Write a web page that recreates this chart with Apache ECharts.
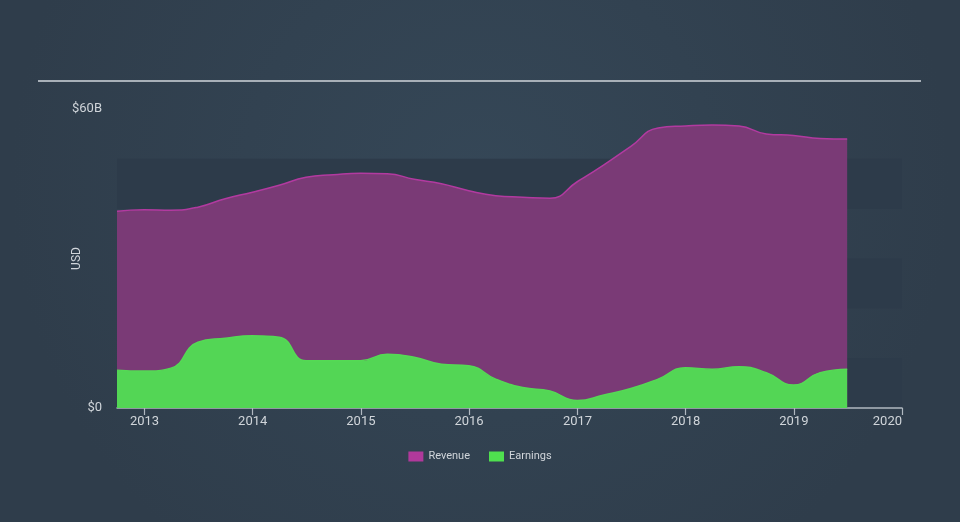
<!DOCTYPE html>
<html>
<head>
<meta charset="utf-8">
<script src="https://cdn.jsdelivr.net/npm/echarts@6/dist/echarts.min.js"></script>
<style>
html,body{margin:0;padding:0;background:#324353;}
#chart{width:960px;height:522px;}
</style>
</head>
<body>
<div id="chart"></div>
<script>
var dates = ['2012-09-30','2012-12-31','2013-03-31','2013-06-30','2013-09-30','2013-12-31',
  '2014-03-31','2014-06-30','2014-09-30','2014-12-31','2015-03-31','2015-06-30','2015-09-30','2015-12-31',
  '2016-03-31','2016-06-30','2016-09-30','2016-12-31','2017-03-31','2017-06-30','2017-09-30','2017-12-31',
  '2018-03-31','2018-06-30','2018-09-30','2018-12-31','2019-03-31','2019-06-30'];
var revenue = [39.5, 39.8, 39.7, 40.3, 42.0, 43.3, 44.7, 46.3, 46.8, 47.1, 47.0, 45.9, 45.0, 43.6,
  42.6, 42.3, 42.1, 45.4, 48.8, 52.5, 56.2, 56.6, 56.8, 56.6, 55.0, 54.7, 54.1, 54.0];
var earnings = [7.6, 7.4, 8.0, 13.2, 14.0, 14.5, 14.2, 9.5, 9.5, 9.5, 10.8, 10.2, 8.8, 8.5,
  5.8, 4.1, 3.4, 1.5, 2.6, 3.9, 5.8, 8.1, 7.8, 8.3, 7.1, 4.6, 7.1, 7.8];
var yTickLabels = {0: '$0', 60: '$60B'};
var seriesNames = ['Revenue', 'Earnings'];

function pairs(vals){ return dates.map(function(d,i){ return [d, vals[i]]; }); }

var chart = echarts.init(document.getElementById('chart'));
var YEAR = 365.25*24*3600*1000;
chart.setOption({
  backgroundColor: {type:'radial', x:0.5, y:0.35, r:0.9,
    colorStops:[{offset:0,color:'#354757'},{offset:1,color:'#2f3d4b'}]},
  animation: false,
  textStyle: {fontFamily: 'Roboto, "Liberation Sans", sans-serif'},
  graphic: [{type:'line', shape:{x1:38,y1:81,x2:921,y2:81}, style:{stroke:'#a8b0b8', lineWidth:2}}],
  grid: {left:117, right:58, top:109, bottom:114, containLabel:false},
  legend: {
    bottom: 55, left: 'center', icon: 'rect', itemWidth: 15, itemHeight: 10, itemGap: 19,
    textStyle: {color:'#d0d5da', fontSize:11},
    data: [{name:seriesNames[0], itemStyle:{color:'#b0399b'}}, {name:seriesNames[1], itemStyle:{color:'#4fe04f'}}]
  },
  xAxis: {
    type: 'time', min: dates[0], max: '2020-01-01',
    minInterval: YEAR*0.99, maxInterval: YEAR*1.01,
    axisLine: {show:true, lineStyle:{color:'#b0b8c0', width:1.5}},
    axisTick: {show:true, length:7, lineStyle:{color:'#b0b8c0', width:1.2}},
    axisLabel: {color:'#d0d5da', fontSize:13, margin:7, showMaxLabel:true, hideOverlap:false,
      alignMaxLabel:'right',
      formatter: function(v){ return String(new Date(v).getFullYear()); }},
    splitLine: {show:false}
  },
  yAxis: {
    type: 'value', min: 0, max: 60, interval: 10,
    name: 'USD', nameLocation: 'middle', nameGap: 34, nameRotate: 90, nameMoveOverlap: false,
    nameTextStyle: {color:'#d0d5da', fontSize:12},
    axisLine: {show:false}, axisTick: {show:false},
    axisLabel: {color:'#d0d5da', fontSize:13, margin:15,
      formatter: function(v){ return yTickLabels[v] !== undefined ? yTickLabels[v] : ''; }},
    splitLine: {show:false},
    splitArea: {show:true, areaStyle:{color:['#2d3b4a','rgba(0,0,0,0)']}}
  },
  series: [
    {name: seriesNames[0], type:'line', data: pairs(revenue), smooth:0.5,
     showSymbol:false, symbol:'none', z:2,
     lineStyle:{color:'#b23aa0', width:1.5}, itemStyle:{color:'#b0399b'},
     areaStyle:{color:'#7a3a76', opacity:1}},
    {name: seriesNames[1], type:'line', data: pairs(earnings), smooth:0.5,
     showSymbol:false, symbol:'none', z:3,
     lineStyle:{color:'#55d955', width:1.5}, itemStyle:{color:'#4fe04f'},
     areaStyle:{color:'#53d655', opacity:1}}
  ]
});
</script>
</body>
</html>
